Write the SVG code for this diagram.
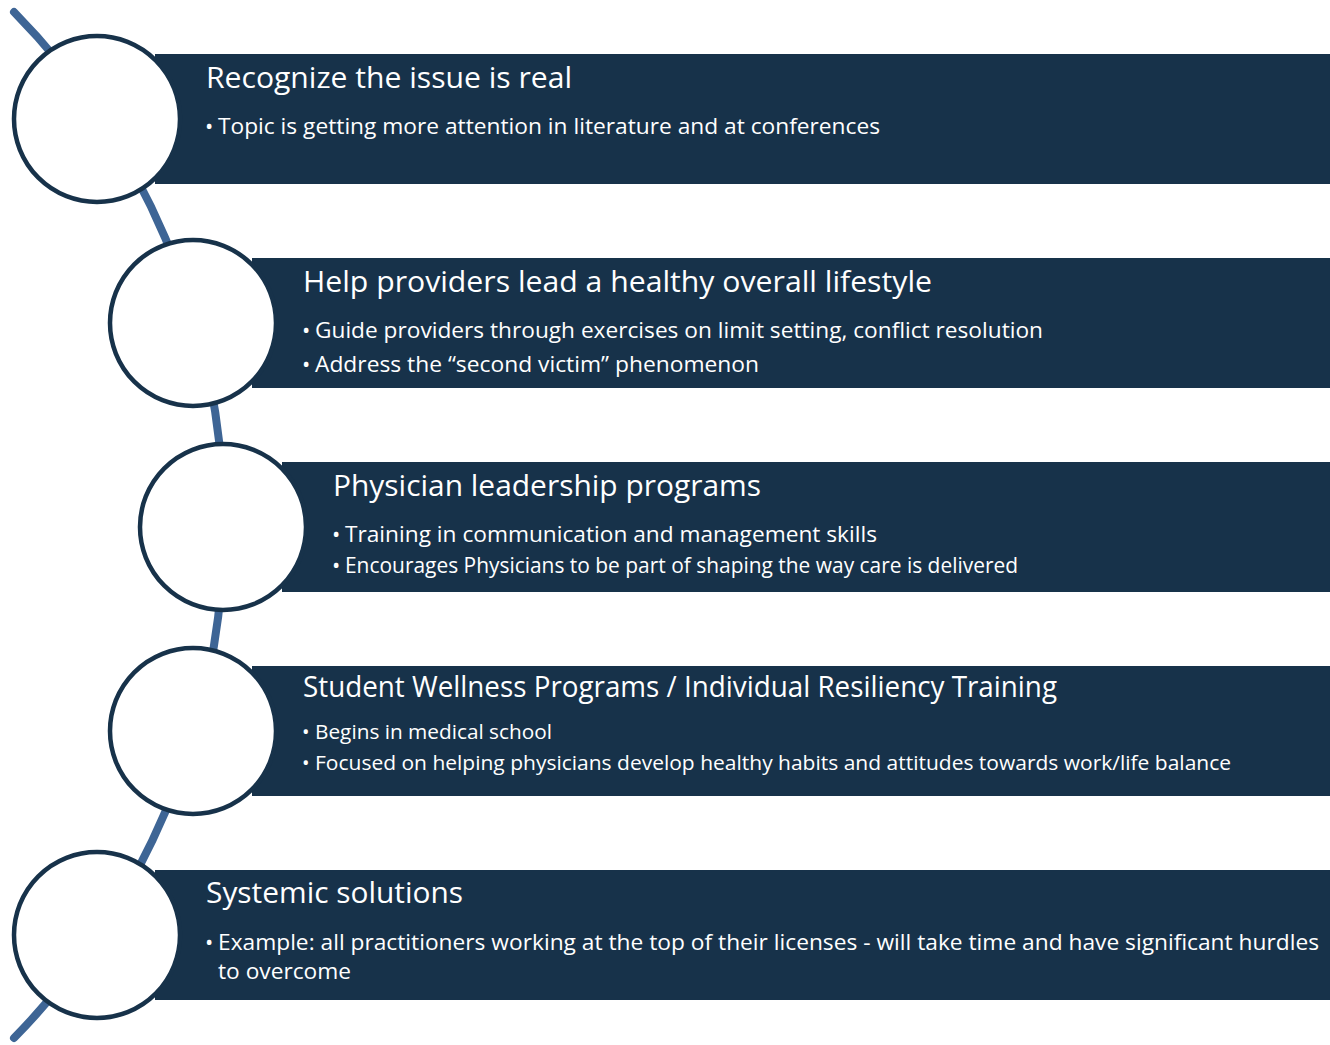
<svg xmlns="http://www.w3.org/2000/svg" width="1330" height="1045" viewBox="0 0 1330 1045">
  <style>
    .bar { fill: #17324a; }
    .ring { fill: #ffffff; stroke: #17324a; stroke-width: 4.5; }
    .spine { fill: none; stroke: #3e6595; stroke-width: 8; stroke-linecap: round; }
    .title { font-family: "Open Sans", "Noto Sans", sans-serif; font-size: 30px; fill: #ffffff; }
    .item { font-family: "Open Sans", "Noto Sans", sans-serif; font-size: 22px; fill: #ffffff; }
    .small { font-size: 20px; }
  </style>

  <!-- curved spine running through all steps -->
  <g id="connectors">
    <path class="spine" d="M 14 12 A 732 732 0 0 1 14 1038"/>
  </g>

  <g id="step1">
    <rect class="bar" x="155" y="54" width="1175" height="130"/>
    <circle class="ring" cx="97" cy="119" r="83"/>
    <text class="title" x="206" y="88" textLength="366" lengthAdjust="spacingAndGlyphs">Recognize the issue is real</text>
    <text class="item" x="205" y="134">•</text>
    <text class="item" x="218" y="134" textLength="662" lengthAdjust="spacingAndGlyphs">Topic is getting more attention in literature and at conferences</text>
  </g>

  <g id="step2">
    <rect class="bar" x="252" y="258" width="1078" height="130"/>
    <circle class="ring" cx="193" cy="323" r="83"/>
    <text class="title" x="303" y="292" textLength="629" lengthAdjust="spacingAndGlyphs">Help providers lead a healthy overall lifestyle</text>
    <text class="item" x="302" y="338">•</text>
    <text class="item" x="315" y="338" textLength="728" lengthAdjust="spacingAndGlyphs">Guide providers through exercises on limit setting, conflict resolution</text>
    <text class="item" x="302" y="372">•</text>
    <text class="item" x="315" y="372" textLength="444" lengthAdjust="spacingAndGlyphs">Address the “second victim” phenomenon</text>
  </g>

  <g id="step3">
    <rect class="bar" x="282" y="462" width="1048" height="130"/>
    <circle class="ring" cx="223" cy="527" r="83"/>
    <text class="title" x="333" y="496" textLength="428" lengthAdjust="spacingAndGlyphs">Physician leadership programs</text>
    <text class="item" x="332" y="542">•</text>
    <text class="item" x="345" y="542" textLength="532" lengthAdjust="spacingAndGlyphs">Training in communication and management skills</text>
    <text class="item" x="332" y="573">•</text>
    <text class="item" x="345" y="573" textLength="673" lengthAdjust="spacingAndGlyphs">Encourages Physicians to be part of shaping the way care is delivered</text>
  </g>

  <g id="step4">
    <rect class="bar" x="252" y="666" width="1078" height="130"/>
    <circle class="ring" cx="193" cy="731" r="83"/>
    <text class="title" x="303" y="697" textLength="754" lengthAdjust="spacingAndGlyphs">Student Wellness Programs / Individual Resiliency Training</text>
    <text class="item small" x="302" y="739">•</text>
    <text class="item small" x="315" y="739" textLength="237" lengthAdjust="spacingAndGlyphs">Begins in medical school</text>
    <text class="item small" x="302" y="770">•</text>
    <text class="item small" x="315" y="770" textLength="916" lengthAdjust="spacingAndGlyphs">Focused on helping physicians develop healthy habits and attitudes towards work/life balance</text>
  </g>

  <g id="step5">
    <rect class="bar" x="155" y="870" width="1175" height="130"/>
    <circle class="ring" cx="97" cy="935" r="83"/>
    <text class="title" x="206" y="903" textLength="257" lengthAdjust="spacingAndGlyphs">Systemic solutions</text>
    <text class="item" x="205" y="950">•</text>
    <text class="item" x="218" y="950" textLength="1101" lengthAdjust="spacingAndGlyphs">Example: all practitioners working at the top of their licenses - will take time and have significant hurdles</text>
    <text class="item" x="218" y="979" textLength="133" lengthAdjust="spacingAndGlyphs">to overcome</text>
  </g>
</svg>
